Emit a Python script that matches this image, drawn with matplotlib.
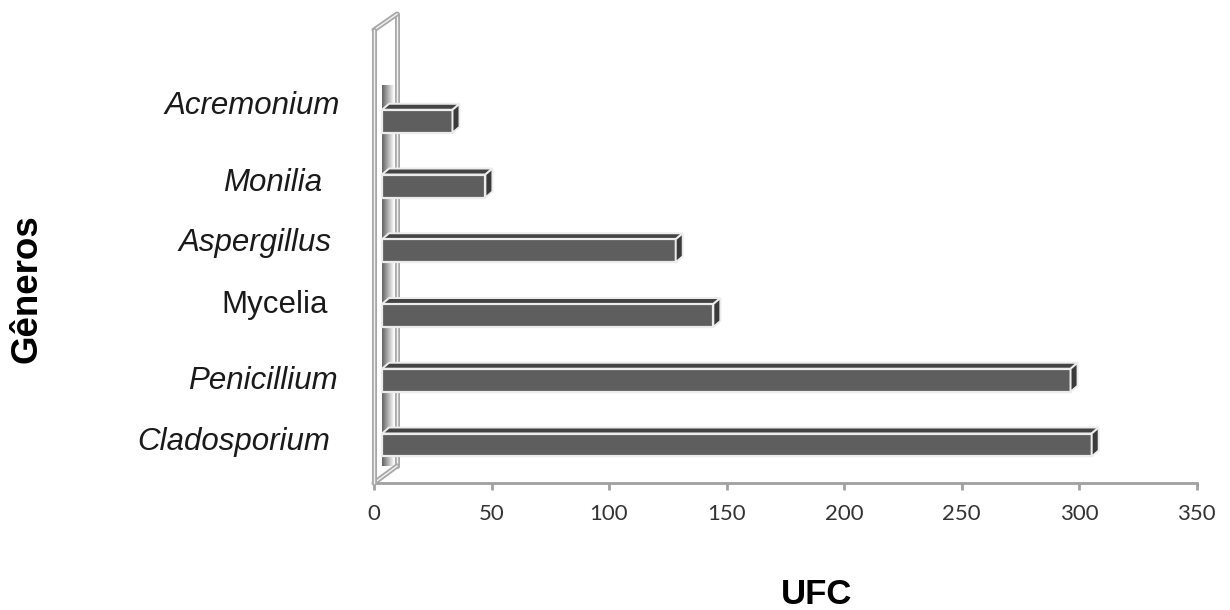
import numpy as np
import matplotlib
matplotlib.use("Agg")
import matplotlib.pyplot as plt
from matplotlib.patches import Polygon
from matplotlib import transforms

# Fungal genera (bottom to top) and colony counts
generos = ["Cladosporium", "Penicillium", "Mycelia", "Aspergillus", "Monilia", "Acremonium"]
ufc = [302, 293, 141, 125, 44, 30]
italico = [True, True, False, True, True, True]
xticks = [0, 50, 100, 150, 200, 250, 300, 350]

# label placement tweaks (pixels right edge, vertical shift in category units)
label_right = [330, 338, 328, 332, 322, 340]
label_shift = [0.05, -0.01, 0.16, 0.12, 0.04, 0.24]

W, H = 1230, 610
fig = plt.figure(figsize=(W / 100, H / 100), dpi=100)
ax = fig.add_axes([374 / W, 127 / H, (1196.5 - 374) / W, 453 / H])
ax.set_xlim(0, 350)
ax.set_ylim(-0.587, 6.41)

y = np.arange(len(generos))
bar_h = 0.355
wall_dx, wall_dy = 23, 16     # depth of the side wall (px)
bar_off = 8                   # bars sit a little behind the front edge
dx, dy = 7, 6                 # bar depth (px)

to_px = ax.transData.transform
sx = to_px((1, 0))[0] - to_px((0, 0))[0]
ident = transforms.IdentityTransform()

# shaded strips on the wall
grad = np.linspace(0, 1, 64).reshape(1, -1)
strip_top = len(generos) - 1 + 0.56
ax.imshow(grad, extent=[bar_off / sx, 21 / sx, -0.32, strip_top], aspect="auto",
          cmap="gray", vmin=-0.6, vmax=0.95, zorder=1, interpolation="bicubic")

# side wall outline
x0, yb = to_px((0, -0.587))
_, yt = to_px((0, 6.41))
back = [(x0 + wall_dx, yb + wall_dy + 1), (x0 + wall_dx, yt + wall_dy)]
for seg, z in [([(x0, yb), back[0]], 2), ([(x0, yt), back[1]], 2), (back, 1.5), ([(x0, yb), (x0, yt)], 4)]:
    xs, ys = zip(*seg)
    ax.plot(xs, ys, color="#a8a8a8", lw=3.6, transform=ident, clip_on=False, zorder=z,
            solid_capstyle="round")
    ax.plot(xs, ys, color="#f2f2f2", lw=1.0, transform=ident, clip_on=False, zorder=z)

# bars: front face through barh, shifted back by the offset
front_tr = transforms.offset_copy(ax.transData, fig=fig, x=bar_off, y=0, units="dots")
ax.barh(y, ufc, height=bar_h, color="#5e5e5e", edgecolor="#ececec", linewidth=1.6,
        transform=front_tr, zorder=5)

# top and end faces
for yi, v in zip(y, ufc):
    xl, ylo = to_px((0, yi - bar_h / 2))
    xr, yhi = to_px((v, yi + bar_h / 2))
    xl += bar_off
    xr += bar_off
    top = [(xl, yhi), (xr, yhi), (xr + dx, yhi + dy), (xl + dx, yhi + dy)]
    end = [(xr, ylo), (xr, yhi), (xr + dx, yhi + dy), (xr + dx, ylo + dy)]
    ax.add_patch(Polygon(top, closed=True, facecolor="#434343", edgecolor="#ececec",
                         linewidth=1.4, transform=ident, zorder=4))
    ax.add_patch(Polygon(end, closed=True, facecolor="#3a3a3a", edgecolor="#ececec",
                         linewidth=1.4, transform=ident, zorder=6))

# category labels
for yi, name, it, rx, sh in zip(y, generos, italico, label_right, label_shift):
    tr = transforms.blended_transform_factory(ax.transAxes, ax.transData)
    ax.text((rx - 374) / (1196.5 - 374), yi + sh, name, ha="right", va="center",
            family="Liberation Sans", style="italic" if it else "normal",
            fontsize=22.5, color="#1a1a1a", transform=tr)

# x axis
for side in ["left", "top", "right"]:
    ax.spines[side].set_visible(False)
ax.spines["bottom"].set_color("#a0a0a0")
ax.spines["bottom"].set_linewidth(2)
ax.set_yticks([])
ax.set_xticks(xticks)
ax.set_xticklabels([str(t) for t in xticks], family="Lato", fontsize=16, color="#333333")
ax.tick_params(axis="x", length=5, width=2, color="#a0a0a0", pad=10)

fig.text(27 / W, 1 - 289 / H, "Gêneros", rotation=90, ha="center", va="center",
         family="Liberation Sans", weight="bold", fontsize=26.5)
fig.text(817 / W, 1 - 595 / H, "UFC", ha="center", va="center",
         family="Liberation Sans", weight="bold", fontsize=25)

fig.savefig("out.png", dpi=100, facecolor="white")
